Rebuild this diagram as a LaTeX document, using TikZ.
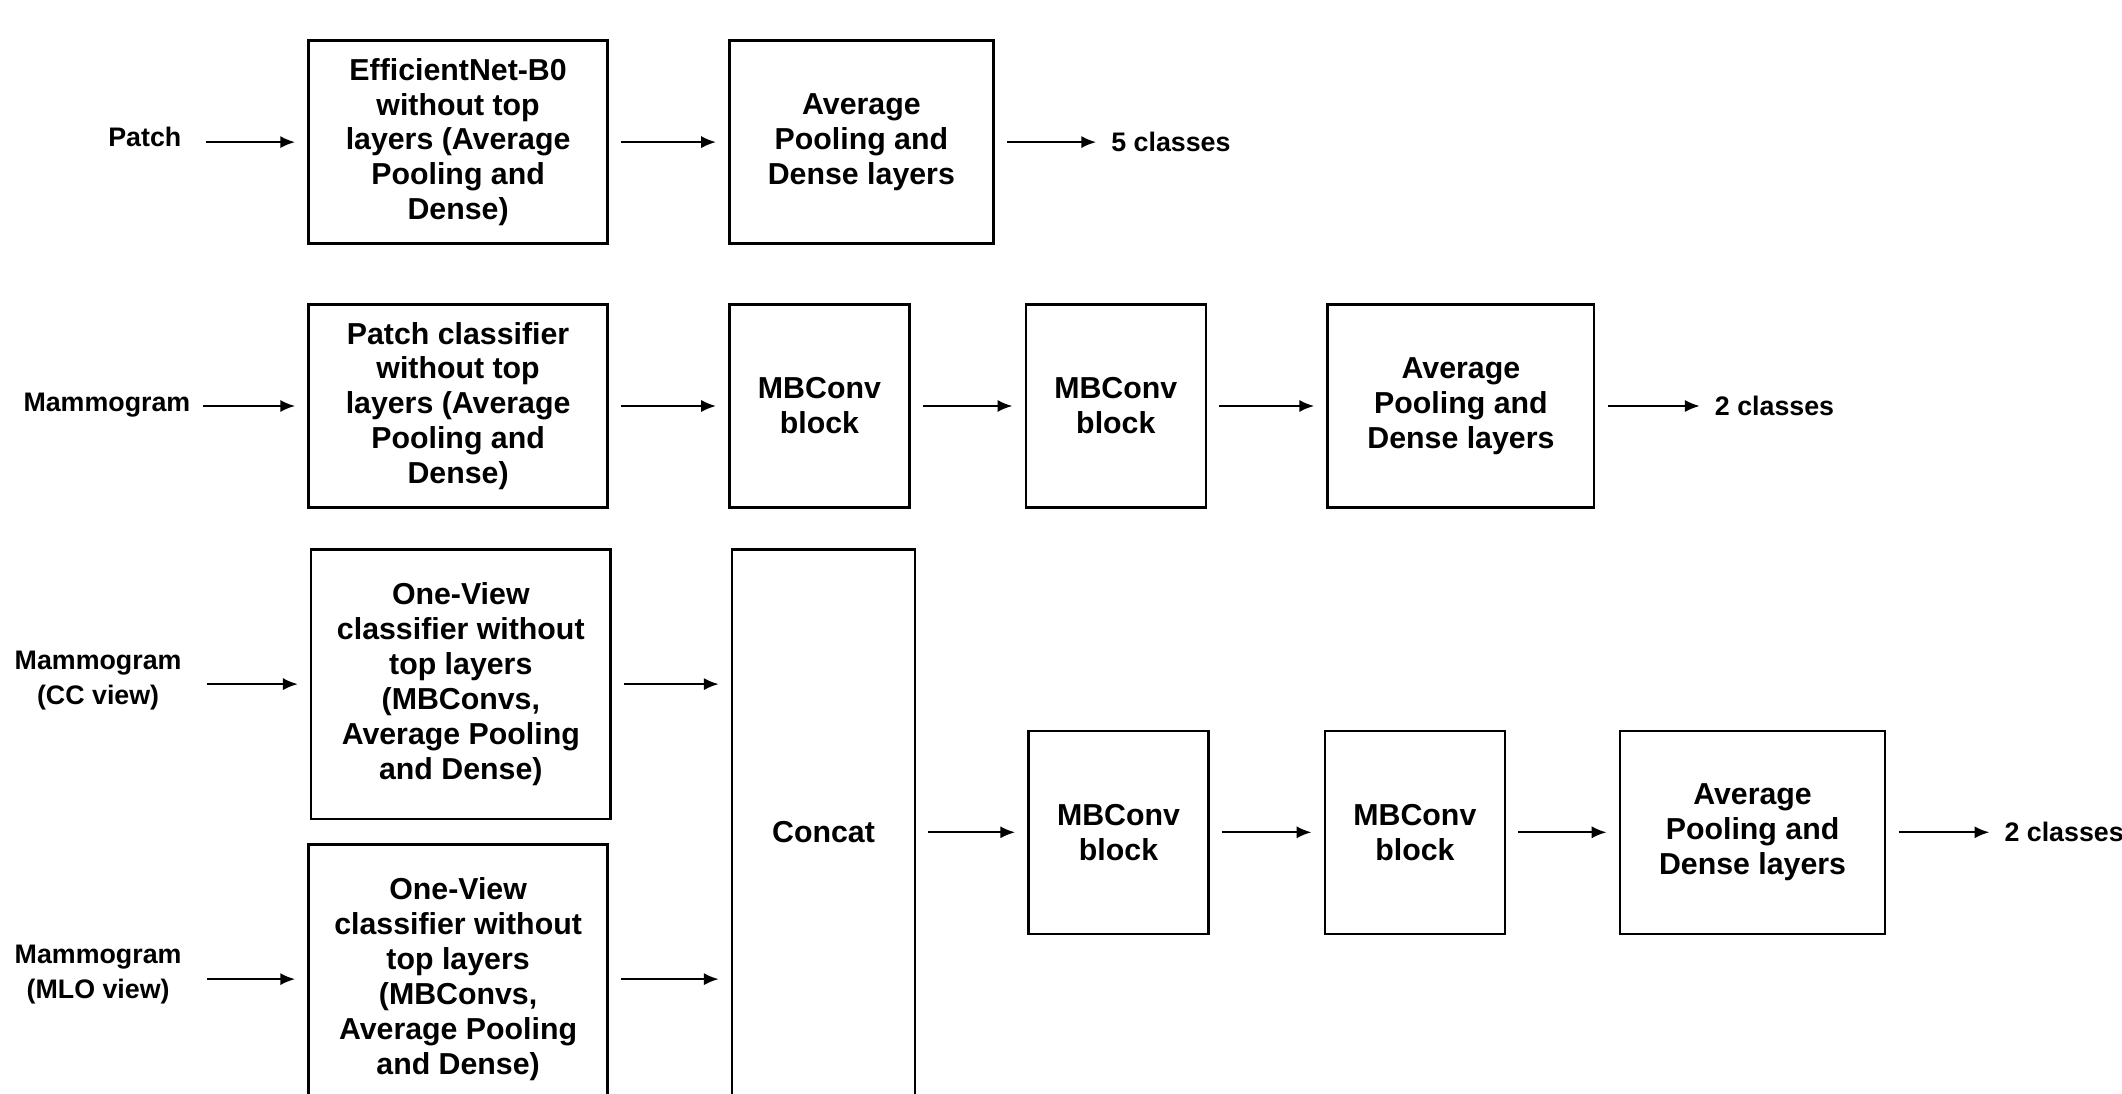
\documentclass[tikz,border=0pt]{standalone}
\usepackage{fontspec}
\setmainfont{Liberation Sans}
\usetikzlibrary{arrows.meta}
\begin{document}
\begin{tikzpicture}[x=1pt,y=-1pt,
  box/.style={draw, line width=1.8pt, align=center, inner sep=0pt,
    font=\fontsize{22.4}{25.8}\selectfont\bfseries},
  lbl/.style={align=center, inner sep=0pt,
    font=\fontsize{19.8}{26}\selectfont\bfseries},
  arr/.style={line width=1.6pt, -{Latex[length=11pt,width=9pt]},
    shorten <=9pt, shorten >=9pt}]
\fill[white] (0,0) rectangle (1568,808);
\useasboundingbox (0,0) rectangle (1568,808);

% Row 1
\node[box, minimum width=221pt, minimum height=150pt] (A) at (338.5,105)
  {EfficientNet-B0\\without top\\layers (Average\\Pooling and\\Dense)};
\node[box, minimum width=195pt, minimum height=150pt] (B) at (636.5,105)
  {Average\\Pooling and\\Dense layers};
\node[lbl, minimum width=72pt] (p1) at (107,101) {Patch};
\node[lbl, anchor=west, inner sep=2pt] (o1) at (819,105) {5 classes};
\draw[arr] (p1.east |- A) -- (A);
\draw[arr] (A) -- (B);
\draw[arr] (B) -- (o1);

% Row 2
\node[box, minimum width=221pt, minimum height=150pt] (C) at (338.5,300)
  {Patch classifier\\without top\\layers (Average\\Pooling and\\Dense)};
\node[box, minimum width=133pt, minimum height=150pt] (D) at (605.5,300)
  {MBConv\\block};
\node[box, minimum width=133pt, minimum height=150pt] (E) at (824.5,300)
  {MBConv\\block};
\node[box, minimum width=197pt, minimum height=150pt] (F) at (1079.5,300)
  {Average\\Pooling and\\Dense layers};
\node[lbl, minimum width=124pt] (m2) at (79,299) {Mammogram};
\node[lbl, anchor=west, inner sep=2pt] (o2) at (1265,300) {2 classes};
\draw[arr] (m2.east |- C) -- (C);
\draw[arr] (C) -- (D);
\draw[arr] (D) -- (E);
\draw[arr] (E) -- (F);
\draw[arr] (F) -- (o2);

% Row 3
\node[box, minimum width=221pt, minimum height=199pt] (G) at (340.5,505.5)
  {One-View\\classifier without\\top layers\\(MBConvs,\\Average Pooling\\and Dense)};
\node[box, minimum width=221pt, minimum height=199pt] (H) at (338.5,723.5)
  {One-View\\classifier without\\top layers\\(MBConvs,\\Average Pooling\\and Dense)};
\node[box, minimum width=135pt, minimum height=418pt] (Cc) at (608.5,615)
  {Concat};
\node[box, minimum width=133pt, minimum height=150pt] (I) at (826.5,615)
  {MBConv\\block};
\node[box, minimum width=133pt, minimum height=150pt] (J) at (1045.5,615)
  {MBConv\\block};
\node[box, minimum width=196pt, minimum height=150pt] (K) at (1295,615)
  {Average\\Pooling and\\Dense layers};
\node[lbl, minimum width=143pt] (m3) at (72.5,503) {Mammogram\\(CC view)};
\node[lbl, minimum width=143pt] (m4) at (72.5,720) {Mammogram\\(MLO view)};
\node[lbl, anchor=west, inner sep=2pt] (o3) at (1479,615) {2 classes};
\draw[arr] (m3.east |- G) -- (G);
\draw[arr] (m4.east |- H) -- (H);
\draw[arr] (G) -- (G -| Cc.west);
\draw[arr] (H) -- (H -| Cc.west);
\draw[arr] (Cc) -- (I);
\draw[arr] (I) -- (J);
\draw[arr] (J) -- (K);
\draw[arr] (K) -- (o3);
\end{tikzpicture}
\end{document}
